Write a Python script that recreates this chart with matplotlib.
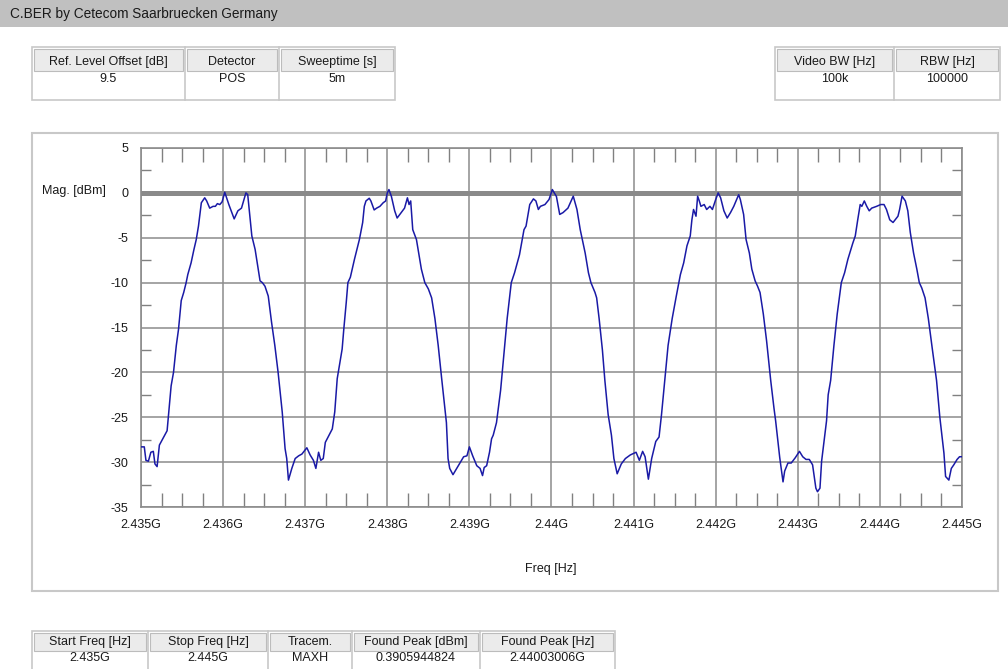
# spectrum plot from the C.BER report, redrawn with matplotlib
import matplotlib
matplotlib.use("Agg")
import matplotlib.pyplot as plt
from matplotlib.patches import Rectangle
from matplotlib.ticker import FixedLocator, MultipleLocator

plt.rcParams["font.family"] = ["Liberation Sans", "DejaVu Sans"]

title = "C.BER by Cetecom Saarbruecken Germany"

top_left_heads = ["Ref. Level Offset [dB]", "Detector", "Sweeptime [s]"]
top_left_vals = ["9.5", "POS", "5m"]
top_right_heads = ["Video BW [Hz]", "RBW [Hz]"]
top_right_vals = ["100k", "100000"]
bottom_heads = ["Start Freq [Hz]", "Stop Freq [Hz]", "Tracem.", "Found Peak [dBm]", "Found Peak [Hz]"]
bottom_vals = ["2.435G", "2.445G", "MAXH", "0.3905944824", "2.44003006G"]

start_ghz = 2.435
x_ticks = [2.435, 2.436, 2.437, 2.438, 2.439, 2.44, 2.441, 2.442, 2.443, 2.444, 2.445]
x_labels = ["2.435G", "2.436G", "2.437G", "2.438G", "2.439G", "2.44G",
            "2.441G", "2.442G", "2.443G", "2.444G", "2.445G"]
y_ticks = [-35, -30, -25, -20, -15, -10, -5, 0, 5]
y_labels = ["-35", "-30", "-25", "-20", "-15", "-10", "-5", "0", "5"]

# trace: MHz above start, level in dBm
trace_mhz = [
    0.00, 0.04, 0.06, 0.09, 0.12, 0.15, 0.17, 0.196, 0.224, 0.265, 0.318, 0.335,
    0.367, 0.396, 0.43, 0.457, 0.49, 0.52, 0.55, 0.57, 0.61, 0.645, 0.673, 0.70,
    0.735, 0.776, 0.80, 0.837, 0.878, 0.906, 0.93, 0.96, 0.988, 1.02, 1.07, 1.135,
    1.18, 1.224, 1.278, 1.30, 1.35, 1.39, 1.45, 1.478, 1.51, 1.55, 1.59, 1.63,
    1.67, 1.72, 1.755, 1.775, 1.796, 1.837, 1.878, 1.92, 1.96, 2.02, 2.06, 2.10,
    2.13, 2.163, 2.19, 2.22, 2.245, 2.33, 2.36, 2.39, 2.45, 2.47, 2.50, 2.52,
    2.55, 2.60, 2.66, 2.70, 2.72, 2.74, 2.78, 2.80, 2.84, 2.87, 2.91, 2.95,
    2.98, 3.00, 3.02, 3.05, 3.09, 3.12, 3.17, 3.21, 3.245, 3.265, 3.285, 3.31,
    3.355, 3.415, 3.457, 3.50, 3.54, 3.58, 3.62, 3.66, 3.69, 3.72, 3.74, 3.76,
    3.80, 3.865, 3.93, 3.97, 4.00, 4.04, 4.09, 4.13, 4.16, 4.18, 4.21, 4.245,
    4.27, 4.29, 4.33, 4.38, 4.42, 4.46, 4.51, 4.55, 4.61, 4.665, 4.69, 4.735,
    4.78, 4.81, 4.84, 4.865, 4.92, 4.97, 5.01, 5.06, 5.10, 5.14, 5.20, 5.265,
    5.31, 5.35, 5.41, 5.45, 5.48, 5.53, 5.55, 5.58, 5.62, 5.65, 5.69, 5.73,
    5.76, 5.80, 5.85, 5.90, 5.96, 6.03, 6.07, 6.11, 6.14, 6.18, 6.22, 6.27,
    6.31, 6.34, 6.38, 6.42, 6.47, 6.52, 6.57, 6.61, 6.65, 6.69, 6.71, 6.73,
    6.76, 6.78, 6.80, 6.82, 6.86, 6.89, 6.93, 6.96, 7.00, 7.03, 7.06, 7.10,
    7.14, 7.18, 7.22, 7.28, 7.30, 7.34, 7.37, 7.41, 7.44, 7.48, 7.51, 7.54,
    7.58, 7.62, 7.67, 7.71, 7.73, 7.78, 7.82, 7.84, 7.88, 7.92, 7.97, 8.02,
    8.06, 8.10, 8.14, 8.18, 8.22, 8.24, 8.27, 8.29, 8.32, 8.35, 8.37, 8.40,
    8.44, 8.48, 8.53, 8.57, 8.61, 8.67, 8.70, 8.73, 8.76, 8.78, 8.81, 8.84,
    8.87, 8.90, 8.96, 9.01, 9.05, 9.08, 9.12, 9.16, 9.22, 9.24, 9.27, 9.31,
    9.34, 9.37, 9.41, 9.45, 9.48, 9.51, 9.55, 9.59, 9.64, 9.69, 9.73, 9.78,
    9.80, 9.84, 9.87, 9.90, 9.94, 9.97, 10.00,
]
trace_dbm = [
    -28.3, -28.3, -29.8, -29.9, -28.9, -28.8, -30.2, -30.5, -28.1, -27.4, -26.5, -24.8,
    -21.5, -20.0, -17.0, -15.2, -12.0, -11.1, -10.0, -9.1, -7.8, -6.3, -5.2, -3.7,
    -1.1, -0.55, -0.9, -1.7, -1.5, -1.5, -1.2, -1.3, -1.0, 0.07, -1.3, -2.9,
    -2.0, -1.7, 0.0, -0.2, -4.8, -6.3, -9.8, -10.0, -10.4, -11.5, -14.4, -17.0,
    -20.0, -24.4, -28.5, -29.6, -32.0, -30.7, -29.6, -29.3, -29.1, -28.4, -29.2, -29.8,
    -30.7, -28.9, -29.8, -29.6, -27.8, -26.3, -24.4, -20.7, -17.4, -15.2, -12.2, -10.0,
    -9.4, -7.4, -5.2, -3.3, -1.5, -0.9, -0.6, -0.9, -1.9, -1.7, -1.5, -1.1,
    -0.9, 0.0, 0.37, -0.4, -2.0, -2.8, -2.2, -1.7, -0.55, -1.3, -0.9, -4.1,
    -5.2, -8.5, -10.0, -10.7, -11.7, -14.0, -17.0, -20.5, -23.0, -25.6, -29.6, -30.7,
    -31.4, -30.4, -29.4, -29.3, -28.3, -29.3, -30.4, -30.7, -31.5, -30.6, -30.4, -28.9,
    -27.4, -27.0, -25.6, -22.0, -18.0, -14.0, -10.0, -8.9, -6.9, -4.1, -3.7, -1.3,
    -0.67, -0.9, -1.85, -1.5, -1.3, -0.74, 0.37, -0.4, -2.4, -2.2, -1.7, -0.37,
    -1.85, -4.1, -6.7, -8.9, -10.0, -11.1, -11.7, -14.0, -17.5, -20.9, -24.7, -27.0,
    -29.6, -31.3, -30.2, -29.6, -29.2, -28.9, -29.8, -28.8, -29.4, -31.9, -29.6, -27.7,
    -27.2, -24.7, -20.9, -17.0, -14.0, -11.5, -9.1, -7.8, -5.9, -4.8, -3.0, -1.85,
    -2.6, -0.37, -0.9, -1.5, -1.3, -1.85, -1.5, -1.85, -0.74, 0.0, -0.55, -2.0,
    -2.8, -2.2, -1.5, -0.2, -0.74, -2.4, -5.2, -6.7, -8.5, -9.8, -10.4, -11.1,
    -13.5, -16.5, -20.9, -24.0, -25.4, -29.5, -32.2, -31.0, -30.1, -30.1, -29.5, -28.8,
    -29.4, -29.7, -29.7, -30.3, -32.9, -33.3, -32.9, -29.9, -27.7, -25.4, -22.5, -20.9,
    -17.0, -13.5, -10.0, -8.9, -7.4, -5.6, -4.8, -3.0, -1.3, -1.5, -0.9, -1.5,
    -2.0, -1.7, -1.5, -1.3, -1.3, -1.85, -3.0, -3.3, -2.6, -1.85, -0.37, -0.9,
    -2.0, -4.4, -6.7, -8.5, -10.0, -10.6, -11.7, -14.0, -17.5, -20.9, -25.0, -29.0,
    -31.6, -32.0, -30.7, -30.3, -29.7, -29.4, -29.4,
]

W, H = 1008, 669
TXT = "#1a1a1a"
fig = plt.figure(figsize=(W / 100, H / 100), dpi=100)

# background layer in pixel units
bg = fig.add_axes([0, 0, 1, 1])
bg.set_xlim(0, W)
bg.set_ylim(H, 0)
bg.axis("off")

bg.add_patch(Rectangle((0, 0), W, 27, fc="#c0c0c0", ec="none"))
bg.text(10, 18, title, fontsize=9.8, va="baseline", ha="left", color=TXT)


def table(x0, top, widths, heads, vals, h_head, h_total, head_base, val_base):
    total = sum(widths)
    bg.add_patch(Rectangle((x0, top), total, h_total, fc="white", ec="#c8c8c8", lw=1.2))
    x = x0
    for i, w in enumerate(widths):
        bg.add_patch(Rectangle((x + 2, top + 2), w - 4, h_head, fc="#ebebeb",
                               ec="#bcbcbc", lw=0.8))
        bg.text(x + w / 2, head_base, heads[i], ha="center", va="baseline",
                fontsize=9, color=TXT)
        bg.text(x + w / 2, val_base, vals[i], ha="center", va="baseline",
                fontsize=9, color=TXT)
        x += w
        if i < len(widths) - 1:
            bg.plot([x, x], [top, top + h_total], color="#c8c8c8", lw=1.2)


table(32, 47, [153, 94, 116], top_left_heads, top_left_vals, 22, 53, 65, 82)
table(775, 47, [119, 106], top_right_heads, top_right_vals, 22, 53, 65, 82)
table(32, 631, [116, 120, 84, 128, 135], bottom_heads, bottom_vals, 18, 40, 645, 661)

# plot panel frame
bg.add_patch(Rectangle((32, 133), 966, 458, fill=False, ec="#c8c8c8", lw=1.5))
bg.text(42, 194, "Mag. [dBm]", fontsize=9, ha="left", va="baseline", color=TXT)
bg.text(551, 572, "Freq [Hz]", fontsize=9, ha="center", va="baseline", color=TXT)

# spectrum axes
ax = fig.add_axes([141 / W, 1 - 507 / H, 821 / W, 359 / H])
freq = [start_ghz + m / 1000 for m in trace_mhz]
ax.axhline(0, color="#8a8a8a", lw=3.6, zorder=1)
ax.plot(freq, trace_dbm, color="#1a1aa6", lw=1.1, zorder=3)

ax.set_xlim(2.435, 2.445)
ax.set_ylim(-35, 5)
ax.xaxis.set_major_locator(FixedLocator(x_ticks))
ax.set_xticklabels(x_labels)
ax.yaxis.set_major_locator(FixedLocator(y_ticks))
ax.set_yticklabels(y_labels)
ax.xaxis.set_minor_locator(MultipleLocator(0.00025))
ax.yaxis.set_minor_locator(MultipleLocator(2.5))

ax.tick_params(which="major", length=0, pad=9, labelsize=9, labelcolor=TXT)
ax.tick_params(which="minor", direction="in", color="#808080", width=1.0)
ax.tick_params(axis="x", which="minor", length=10, top=True, bottom=True)
ax.tick_params(axis="y", which="minor", length=7, left=True, right=True)

ax.grid(True, which="major", color="#8c8c8c", lw=1.1, zorder=0)
ax.set_axisbelow(True)
for s in ax.spines.values():
    s.set_color("#8c8c8c")
    s.set_linewidth(1.2)

fig.savefig("out.png", dpi=100)
